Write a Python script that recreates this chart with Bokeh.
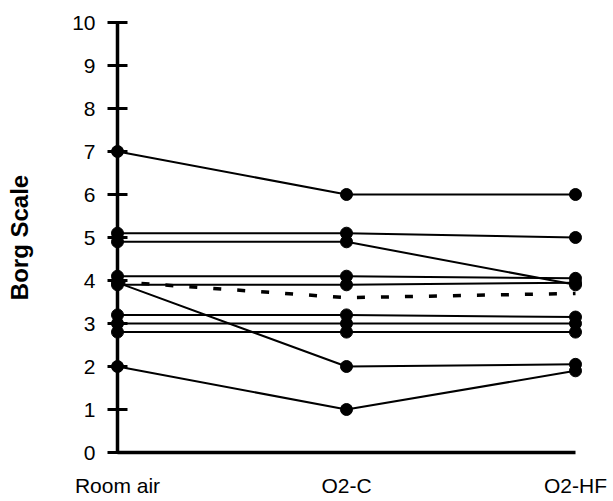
from bokeh.plotting import figure
from bokeh.models import Range1d, FixedTicker
from bokeh.embed import file_html
from bokeh.resources import INLINE

# ---- data ----
conditions = ["Room air", "O2-C", "O2-HF"]
cond_x = [0, 1, 2]
y_ticks = [0, 1, 2, 3, 4, 5, 6, 7, 8, 9, 10]

subj_01 = [7.0, 6.0, 6.0]
subj_02 = [5.1, 5.1, 5.0]
subj_03 = [4.9, 4.9, 3.9]
subj_04 = [4.1, 4.1, 4.05]
subj_05 = [3.9, 3.9, 3.95]
subj_06 = [3.95, 2.0, 2.05]
subj_07 = [2.0, 1.0, 1.9]
subj_08 = [3.2, 3.2, 3.15]
subj_09 = [3.0, 3.0, 3.0]
subj_10 = [2.8, 2.8, 2.8]
subjects = [subj_01, subj_02, subj_03, subj_04, subj_05,
            subj_06, subj_07, subj_08, subj_09, subj_10]
mean_line = [3.97, 3.6, 3.7]

FONT = "Liberation Sans"

p = figure(width=613, height=501, output_backend="svg", toolbar_location=None,
           x_range=Range1d(-117 / 229, 496 / 229),
           y_range=Range1d(-49 / 43, 452 / 43),
           min_border=0)
p.xgrid.visible = False
p.ygrid.visible = False
p.outline_line_color = None
p.background_fill_color = "white"
p.border_fill_color = "white"

# individual subjects
for s in subjects:
    p.line(cond_x, s, line_color="black", line_width=2)
    p.scatter(cond_x, s, size=12, marker="circle", fill_color="black", line_color="black")

# mean (dashed)
p.line(cond_x, mean_line, line_color="black", line_width=3.5, line_dash="8 16")

# y axis
ya = p.yaxis[0]
ya.fixed_location = 0
ya.bounds = (0, 10)
ya.ticker = FixedTicker(ticks=y_ticks)
ya.major_tick_in = 10
ya.major_tick_out = 10
ya.minor_tick_in = 0
ya.minor_tick_out = 0
ya.axis_line_width = 3.5
ya.major_tick_line_width = 3
ya.major_label_text_font = FONT
ya.major_label_text_font_size = "21px"
ya.major_label_text_color = "black"
ya.major_label_standoff = 12
ya.axis_label = "Borg Scale"
ya.axis_label_text_font = FONT
ya.axis_label_text_font_style = "bold"
ya.axis_label_text_font_size = "24px"
ya.axis_label_text_color = "black"
ya.axis_label_standoff = 36

# x axis
xa = p.xaxis[0]
xa.fixed_location = 0
xa.bounds = (0, 2)
xa.ticker = FixedTicker(ticks=cond_x)
xa.major_label_overrides = {x: c for x, c in zip(cond_x, conditions)}
xa.major_tick_in = 0
xa.major_tick_out = 0
xa.minor_tick_in = 0
xa.minor_tick_out = 0
xa.axis_line_width = 3.5
xa.major_label_text_font = FONT
xa.major_label_text_font_size = "21px"
xa.major_label_text_color = "black"
xa.major_label_standoff = 21

open("out.html", "w").write(file_html(p, INLINE))
